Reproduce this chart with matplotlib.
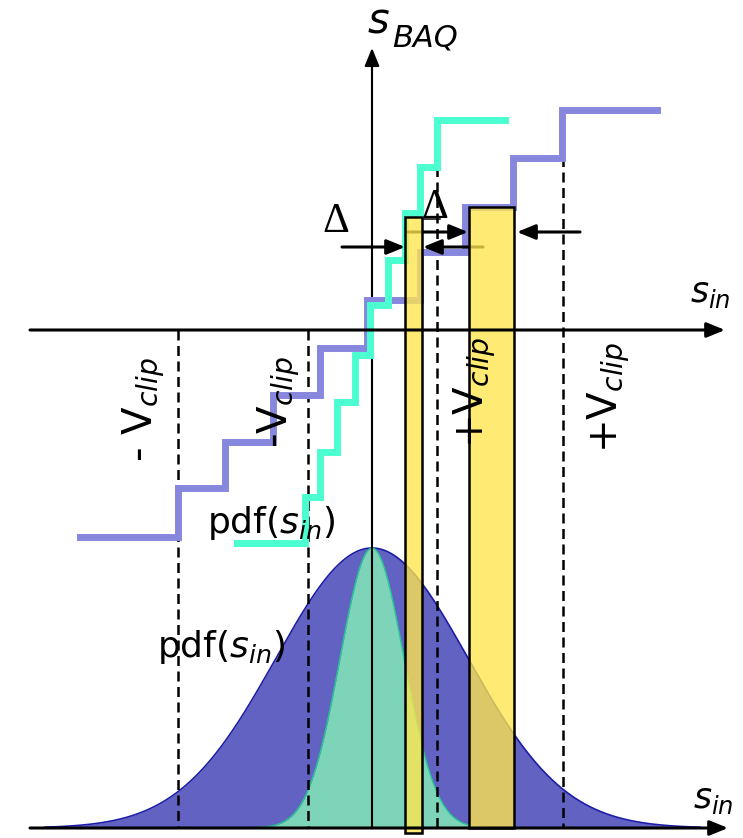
import matplotlib.pyplot as plt
import numpy as np
from matplotlib.patches import Rectangle

# quantiser staircases: step edges along s_in and output level of each step
coarse_edges = [80, 178, 225, 273, 320, 367, 420, 465, 513, 562, 657]
coarse_levels = [537, 488, 442, 395, 348, 300, 252, 207, 158, 110, 110]
fine_edges = [237, 305, 320, 337, 355, 370, 388, 405, 420, 437, 505]
fine_levels = [543, 497, 452, 402, 355, 305, 260, 213, 167, 120, 120]

# clipping thresholds and the level where each dashed line starts
clip_x = [178, 308, 437, 563]
clip_top = [330, 330, 120, 110]
clip_labels = ["- V$_{clip}$", "-V$_{clip}$", "+V$_{clip}$", "+V$_{clip}$"]

# input pdfs (same centre and peak, two widths)
pdf_centre = 372
pdf_peak = 548
pdf_sigma_wide = 96
pdf_sigma_narrow = 32

# one quantisation bin of each quantiser
bin_left = [405, 469]
bin_right = [422, 514]
bin_top = [217, 207]
bin_bottom = [833, 828]

# axes
upper_axis_y = 330
lower_axis_y = 828
axis_x0 = 30

COARSE = "#8787de"
FINE = "#4bffd0"
WIDE_FILL = "#6262c2"
WIDE_EDGE = "#1c1ca6"
NARROW_FILL = "#7dd4b9"
NARROW_EDGE = "#25c792"
BIN_FACE = (1.0, 0.90, 0.30, 0.78)

HEAD = "-|>,head_length=1.1,head_width=0.45"


def arrow(ax, tail, tip, lw, z):
    ax.annotate(
        "",
        xy=tip,
        xytext=tail,
        arrowprops=dict(arrowstyle=HEAD, color="k", lw=lw, shrinkA=0, shrinkB=0),
        zorder=z,
    )


def plot_pdfs(ax):
    x = np.linspace(45, 700, 700)
    height = lower_axis_y - pdf_peak
    wide = lower_axis_y - height * np.exp(-0.5 * ((x - pdf_centre) / pdf_sigma_wide) ** 2)
    narrow = lower_axis_y - height * np.exp(
        -0.5 * ((x - pdf_centre) / pdf_sigma_narrow) ** 2
    )
    ax.fill_between(x, lower_axis_y, wide, color=WIDE_FILL, lw=0, zorder=1)
    ax.plot(x, wide, color=WIDE_EDGE, lw=1.2, zorder=1)
    keep = narrow < lower_axis_y - 0.3
    ax.fill_between(x[keep], lower_axis_y, narrow[keep], color=NARROW_FILL, lw=0, zorder=2)
    ax.plot(x[keep], narrow[keep], color=NARROW_EDGE, lw=1.0, zorder=2)


def plot_staircases(ax):
    ax.step(coarse_edges, coarse_levels, where="post", color=COARSE, lw=5,
            solid_joinstyle="miter", zorder=4)
    ax.step(fine_edges, fine_levels, where="post", color=FINE, lw=5,
            solid_joinstyle="miter", zorder=5)


def plot_clips(ax):
    for x, top in zip(clip_x, clip_top):
        ax.plot([x, x], [top, lower_axis_y], color="k", lw=1.8,
                dashes=(4, 2.2), zorder=3)


def plot_bins(ax):
    for l, r, t, b in zip(bin_left, bin_right, bin_top, bin_bottom):
        ax.add_patch(Rectangle((l, t), r - l, b - t, facecolor=BIN_FACE,
                               edgecolor="k", lw=1.8, zorder=7))


def plot_axes(ax):
    ax.plot([pdf_centre, pdf_centre], [lower_axis_y, 60], color="k", lw=1.5, zorder=3)
    arrow(ax, (pdf_centre, 70), (pdf_centre, 48), 1.5, 3)
    arrow(ax, (axis_x0, upper_axis_y), (725, upper_axis_y), 2.2, 8)
    arrow(ax, (axis_x0, lower_axis_y), (728, lower_axis_y), 2.2, 8)


def plot_steps_width(ax):
    arrow(ax, (342, 247), (405, 247), 2.2, 6)
    arrow(ax, (483, 247), (423, 247), 2.2, 6)
    arrow(ax, (408, 232), (468, 232), 2.2, 6)
    arrow(ax, (580, 232), (517, 232), 2.2, 6)
    ax.plot([422, 440], [219, 219], color="k", lw=1.1, zorder=6)
    ax.text(336, 232, "Δ", family="Liberation Serif", fontsize=30,
            ha="center", va="baseline", zorder=9)
    ax.text(435, 218, "Δ", family="Liberation Serif", fontsize=30,
            ha="center", va="baseline", zorder=9)


def plot_labels(ax):
    ax.text(368, 34, "s", style="italic", fontsize=30, zorder=9)
    ax.text(392, 47, "BAQ", style="italic", fontsize=22, zorder=9)
    ax.text(690, 302, "$s_{in}$", fontsize=25, zorder=9)
    ax.text(693, 808, "$s_{in}$", fontsize=25, zorder=9)
    ax.text(207, 533, "pdf($s_{in}$)", fontsize=26, zorder=9)
    ax.text(157, 657, "pdf($s_{in}$)", fontsize=26, zorder=9)

    label_base = [(153, 462), (288, 448), (484, 448), (618, 453)]
    for (x, y), text in zip(label_base, clip_labels):
        ax.text(x, y, text, rotation=90, rotation_mode="anchor", ha="left",
                va="baseline", fontsize=29, zorder=9)


fig = plt.figure(figsize=(7.43, 8.38), dpi=100)
ax = fig.add_axes([0, 0, 1, 1])
ax.set_xlim(0, 743)
ax.set_ylim(838, 0)
ax.axis("off")

plot_pdfs(ax)
plot_clips(ax)
plot_staircases(ax)
plot_steps_width(ax)
plot_bins(ax)
plot_axes(ax)
plot_labels(ax)

fig.savefig("out.png", dpi=100)
